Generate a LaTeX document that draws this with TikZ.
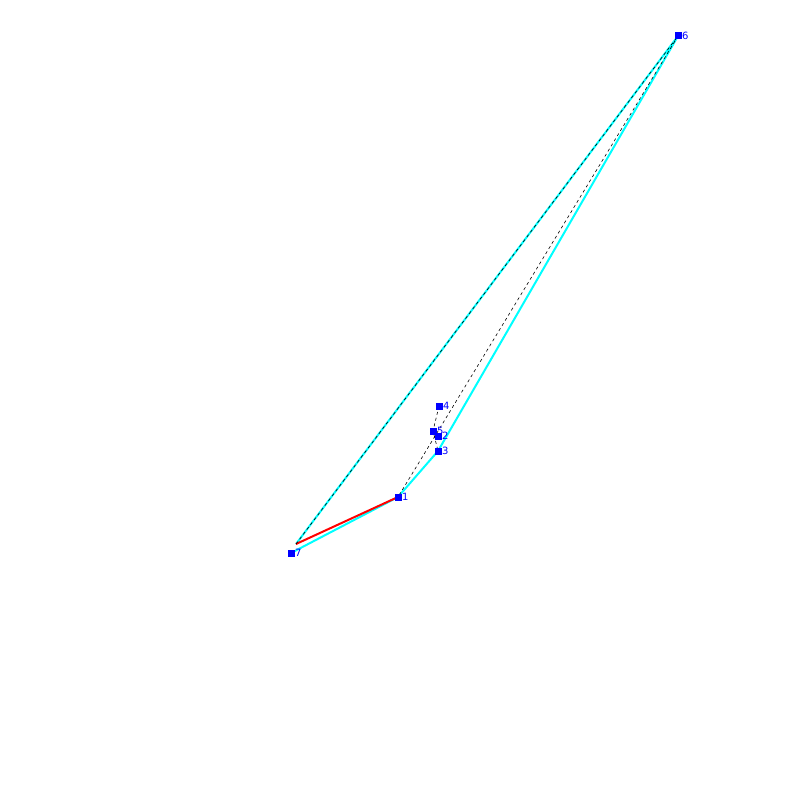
\documentclass[tikz,border=0pt]{standalone}
\usepackage{fontspec}
\setmainfont{DejaVu Sans}
\definecolor{cy}{RGB}{0,255,255}
\definecolor{bl}{RGB}{0,0,255}
\definecolor{rd}{RGB}{255,0,0}
\begin{document}
\begin{tikzpicture}[x=1pt,y=-1pt,
  pt/.style={fill=bl,inner sep=0pt,minimum size=7pt,draw=none},
  lab/.style={text=bl,font=\fontsize{10}{10}\selectfont,anchor=west,inner sep=0pt},
  cyanline/.style={cy,line width=2pt},
  redline/.style={rd,line width=2pt},
  dline/.style={black,line width=0.6pt,dash pattern=on 3pt off 3pt}]
\useasboundingbox (0,0) rectangle (800,800);
\fill[white] (0,0) rectangle (800,800);
\coordinate (c1) at (398,497);
\coordinate (c2) at (438,436);
\coordinate (c3) at (438,451);
\coordinate (c4) at (439,406);
\coordinate (c5) at (433,431);
\coordinate (c6) at (678,36);
\coordinate (c7) at (291,553);
\coordinate (c7b) at (296,544);
% cyan polygon
\draw[cyanline] (c7b) -- (c6) -- (c3) -- (c1) -- (c7);
% red edge
\draw[redline] (c7b) -- (c1);
% dashed
\draw[dline] (c7b) -- (c6);
\draw[dline] (c6) -- (c1);
\draw[dline] (c4) -- (c5) -- (c3);
% points
\foreach \i in {1,...,7} {
  \node[pt] (p\i) at (c\i) {};
  \node[lab] (l\i) at ([xshift=4pt]c\i) {\i};
}
\end{tikzpicture}
\end{document}
